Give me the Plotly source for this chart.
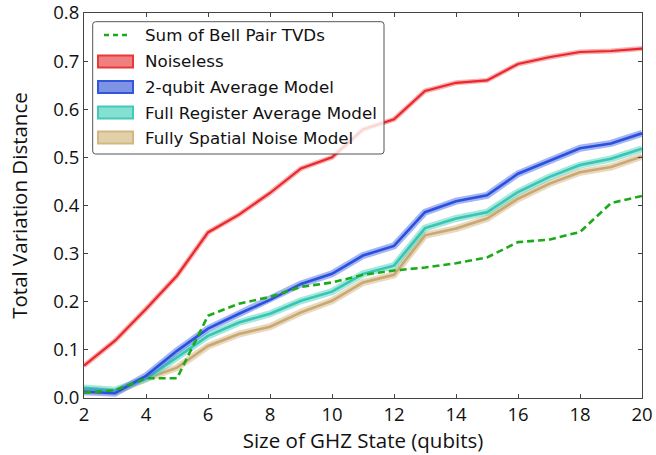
import plotly.graph_objects as go

qubits = list(range(2, 21))
noiseless = [0.067, 0.119, 0.185, 0.254, 0.344, 0.381, 0.426, 0.477, 0.500, 0.558, 0.579,
             0.638, 0.655, 0.660, 0.694, 0.708, 0.719, 0.721, 0.726]
two_qubit = [0.013, 0.010, 0.046, 0.098, 0.144, 0.175, 0.204, 0.237, 0.258, 0.296, 0.316,
             0.386, 0.409, 0.421, 0.466, 0.493, 0.519, 0.529, 0.550]
full_register = [0.021, 0.016, 0.040, 0.084, 0.129, 0.157, 0.175, 0.202, 0.221, 0.258, 0.275,
                 0.353, 0.373, 0.386, 0.428, 0.459, 0.484, 0.497, 0.518]
fully_spatial = [0.016, 0.013, 0.040, 0.063, 0.108, 0.133, 0.148, 0.178, 0.202, 0.240, 0.256,
                 0.338, 0.352, 0.373, 0.414, 0.445, 0.469, 0.480, 0.502]
bell_sum = [0.011, 0.016, 0.041, 0.041, 0.171, 0.196, 0.210, 0.231, 0.240, 0.256, 0.265,
            0.271, 0.280, 0.292, 0.324, 0.329, 0.345, 0.405, 0.420]

legend_labels = ["Sum of Bell Pair TVDs", "Noiseless", "2-qubit Average Model",
                 "Full Register Average Model", "Fully Spatial Noise Model"]

series = [
    (noiseless, "#e8282c", "rgba(240,110,110,0.55)", 5, 2.2, "rgba(240,128,128,1)", "#e83838"),
    (two_qubit, "#2a50e0", "rgba(90,120,230,0.55)", 7, 2.6, "rgba(125,148,228,1)", "#3356e0"),
    (full_register, "#36c6b2", "rgba(80,210,190,0.5)", 7, 2.6, "rgba(132,224,208,1)", "#44c9b8"),
    (fully_spatial, "#caa870", "rgba(210,180,130,0.5)", 7, 2.6, "rgba(226,208,170,1)", "#d4b682"),
]

fig = go.Figure()
for vals, core, halo, hw, cw, _, _ in series[::-1]:
    fig.add_trace(go.Scatter(x=qubits, y=vals, mode="lines",
                             line=dict(color=halo, width=hw), showlegend=False, hoverinfo="skip"))
    fig.add_trace(go.Scatter(x=qubits, y=vals, mode="lines",
                             line=dict(color=core, width=cw), showlegend=False, hoverinfo="skip"))

fig.add_trace(go.Scatter(x=qubits, y=bell_sum, mode="lines",
                         line=dict(color="#1aaa1a", width=2.6, dash="7px,4px"),
                         showlegend=False, hoverinfo="skip"))

# plot-area pixel geometry (page body margin is removed below)
L, R, T, B = 84, 642, 13, 398
W, H = 656, 455


def px(xp):
    return (xp - L) / (R - L)


def py(yp):
    return (B - yp) / (B - T)


shapes = []
annotations = []
# legend frame (rounded, slightly translucent like matplotlib)
x0, x1, y0, y1, rr = px(92.7), px(384), py(154), py(21.7), 3
rx = rr / (R - L)
ry = rr / (B - T)
path = (f"M {x0+rx},{y1} L {x1-rx},{y1} Q {x1},{y1} {x1},{y1-ry} "
        f"L {x1},{y0+ry} Q {x1},{y0} {x1-rx},{y0} L {x0+rx},{y0} Q {x0},{y0} {x0},{y0+ry} "
        f"L {x0},{y1-ry} Q {x0},{y1} {x0+rx},{y1} Z")
shapes.append(dict(type="path", xref="paper", yref="paper", path=path,
                   line=dict(color="#555555", width=1), fillcolor="rgba(255,255,255,0.8)",
                   layer="above"))
row_y = [35, 61.5, 87, 112.5, 137.5]
# dashed legend line
shapes.append(dict(type="line", xref="paper", yref="paper",
                   x0=px(104), x1=px(129), y0=py(row_y[0]), y1=py(row_y[0]),
                   line=dict(color="#1aaa1a", width=2.6, dash="5px,4px"), layer="above"))
for i, (vals, core, halo, hw, cw, fill, border) in enumerate(series):
    yc = row_y[i + 1]
    shapes.append(dict(type="rect", xref="paper", yref="paper",
                       x0=px(98), x1=px(133), y0=py(yc + 6), y1=py(yc - 6),
                       line=dict(color=border, width=2), fillcolor=fill, layer="above"))
for i, lab in enumerate(legend_labels):
    annotations.append(dict(text=lab, xref="paper", yref="paper", x=px(143), y=py(row_y[i]),
                            xanchor="left", yanchor="middle", showarrow=False,
                            font=dict(family="DejaVu Sans", size=16.7, color="#111111")))

axis_common = dict(showgrid=False, zeroline=False, showline=True, mirror="allticks",
                   linecolor="#444444", linewidth=1, ticks="inside", ticklen=4,
                   tickcolor="#444444", automargin=False, ticklabeloverflow="allow",
                   tickfont=dict(family="Open Sans", size=18.5, color="#111111"))

fig.update_layout(
    width=W, height=H,
    margin=dict(l=L, r=W - R, t=T, b=H - B),
    plot_bgcolor="white", paper_bgcolor="white",
    showlegend=False,
    shapes=shapes, annotations=annotations,
    xaxis=dict(range=[2, 20], tickmode="array", tickvals=list(range(2, 21, 2)),
               title=dict(text="Size of GHZ State (qubits)", standoff=3,
                          font=dict(family="Open Sans", size=20.5, color="#111111")),
               **axis_common),
    yaxis=dict(range=[0, 0.8], tickmode="array", tickvals=[i / 10 for i in range(9)],
               tickformat=".1f",
               title=dict(text="Total Variation Distance", standoff=20,
                          font=dict(family="Open Sans", size=20.5, color="#111111")),
               **axis_common),
)

fig.write_html("out.html", config={"displayModeBar": False},
               post_script="document.body.style.margin='0';document.body.style.overflow='hidden';")
